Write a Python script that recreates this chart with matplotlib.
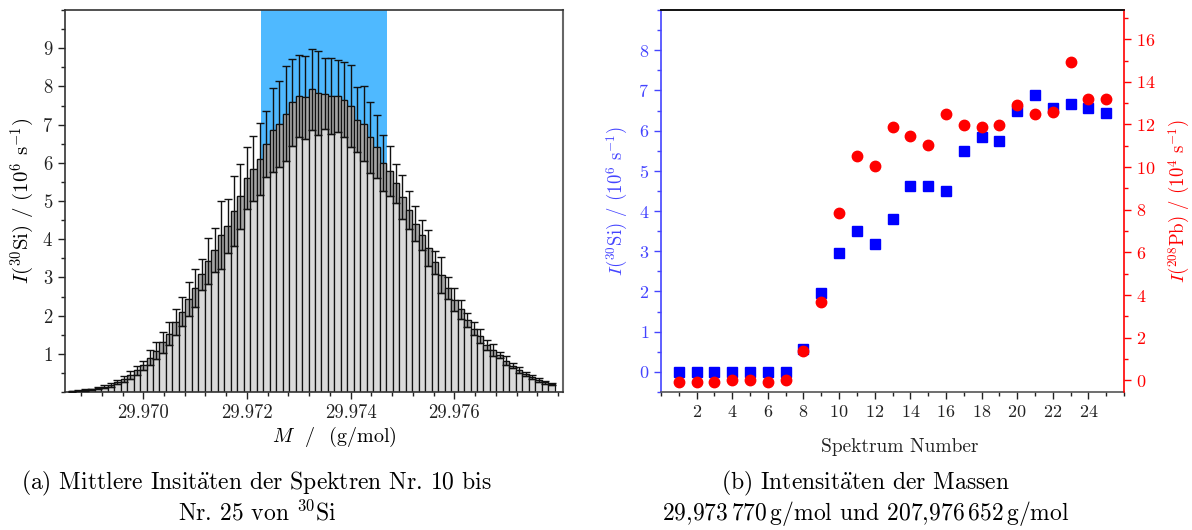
import numpy as np
import matplotlib
matplotlib.use("Agg")
import matplotlib.pyplot as plt
from matplotlib.ticker import MultipleLocator, FixedLocator

plt.rcParams['font.family'] = ['cmr10', 'DejaVu Serif']
plt.rcParams['mathtext.fontset'] = 'cm'
plt.rcParams['axes.unicode_minus'] = False
plt.rcParams['axes.formatter.use_mathtext'] = True

# ---------------- data: panel (a) ----------------
mass_start = 29.968625          # centre of first bin (g/mol)
mass_step = 0.000125            # bin width (g/mol)
intensity = [0.02, 0.03, 0.05, 0.07, 0.10, 0.14, 0.19, 0.26, 0.35, 0.45,
             0.57, 0.70, 0.90, 1.08, 1.30, 1.52, 1.83, 2.10, 2.43, 2.72,
             3.08, 3.42, 3.72, 4.11, 4.35, 4.73, 5.12, 5.60, 5.85, 6.10,
             6.50, 6.86, 7.02, 7.29, 7.58, 7.75, 7.71, 7.92, 7.83, 7.81,
             7.75, 7.75, 7.65, 7.49, 7.13, 7.02, 6.67, 6.42, 6.00, 5.78,
             5.47, 5.10, 4.77, 4.40, 4.10, 3.76, 3.40, 3.06, 2.73, 2.42,
             2.16, 1.89, 1.66, 1.46, 1.24, 1.10, 0.96, 0.82, 0.69, 0.58,
             0.47, 0.39, 0.31, 0.26, 0.21]
intensity_err = [0.01, 0.01, 0.02, 0.02, 0.03, 0.04, 0.05, 0.06, 0.08, 0.10,
                 0.12, 0.12, 0.20, 0.22, 0.28, 0.30, 0.35, 0.38, 0.45, 0.50,
                 0.40, 0.60, 0.58, 0.88, 0.70, 0.92, 0.85, 0.82, 0.86, 0.93,
                 0.86, 1.09, 1.13, 1.25, 1.14, 1.08, 1.08, 1.06, 1.09, 0.93,
                 1.00, 0.95, 0.98, 1.08, 0.86, 0.98, 0.93, 0.83, 0.73, 0.66,
                 0.51, 0.57, 0.50, 0.46, 0.39, 0.47, 0.30, 0.47, 0.29, 0.29,
                 0.24, 0.19, 0.17, 0.18, 0.13, 0.15, 0.08, 0.11, 0.06, 0.07,
                 0.06, 0.06, 0.06, 0.04, 0.03]
highlight_range = (29.97228, 29.97471)

# ---------------- data: panel (b) ----------------
spectrum = list(range(1, 26))
si30 = [0.0, 0.0, 0.0, 0.0, 0.0, 0.0, 0.0, 0.58, 1.95, 2.96,
        3.51, 3.17, 3.80, 4.63, 4.63, 4.50, 5.49, 5.85, 5.75, 6.49,
        6.88, 6.57, 6.67, 6.57, 6.44]
pb208 = [-0.08, -0.08, -0.08, 0.03, 0.03, -0.08, 0.03, 1.38, 3.65, 7.87,
         10.53, 10.03, 11.88, 11.47, 11.06, 12.50, 11.99, 11.88, 11.99, 12.91,
         12.50, 12.60, 14.95, 13.21, 13.21]

# ---------------- figure ----------------
fig = plt.figure(figsize=(11.92, 5.30), dpi=100)
axA = fig.add_axes([65/1192, 1-392/530, 498/1192, 382/530])
axB = fig.add_axes([661/1192, 1-392/530, 463/1192, 382/530])

# ---- panel (a)
centers = mass_start + mass_step*np.arange(len(intensity))
mean = np.array(intensity)
err = np.array(intensity_err)
axA.axvspan(*highlight_range, color='#4fb9ff', zorder=0, lw=0)
axA.bar(centers, mean, width=mass_step, color='#d9d9d9', edgecolor='#111111',
        linewidth=0.9, zorder=2)
axA.bar(centers, err, bottom=mean-err, width=mass_step, color='#a6a6a6',
        edgecolor='#111111', linewidth=0.9, zorder=2)
axA.errorbar(centers, mean, yerr=err, fmt='none', ecolor='#111111',
             elinewidth=1.0, capsize=3, capthick=1.0, zorder=3)
axA.set_xlim(29.96849, 29.978096)
axA.set_ylim(0, 10.0)
axA.yaxis.set_major_locator(FixedLocator(range(1, 10)))
axA.yaxis.set_minor_locator(MultipleLocator(0.5))
axA.xaxis.set_major_locator(FixedLocator([29.970, 29.972, 29.974, 29.976]))
axA.xaxis.set_minor_locator(MultipleLocator(0.0004))
axA.set_xticklabels(['29.970', '29.972', '29.974', '29.976'])
axA.tick_params(which='both', direction='out', top=False, right=False,
                labelsize=13.5, colors='#222222')
axA.tick_params(which='major', length=5, width=1)
axA.tick_params(which='minor', length=3, width=1)
for s in axA.spines.values():
    s.set_color('#333333')
    s.set_linewidth(1.2)
axA.spines['right'].set_color('#666666')
axA.spines['right'].set_linewidth(1.5)
axA.set_xlabel(r'$M$  /  (g/mol)', fontsize=14.5, labelpad=2)
axA.xaxis.set_label_coords(0.54, -0.085)
axA.set_ylabel(r'$I$($^{30}$Si) / (10$^{6}$ s$^{\mathrm{-1}}$)', fontsize=15, labelpad=4)

# ---- panel (b)
blue = '#0000ff'
red = '#ff0000'
axB.plot(spectrum, si30, 's', color=blue, markersize=6.5, zorder=3)
axR = axB.twinx()
axR.set_position([661/1192, 1-392/530, 463/1192, 382/530])
axR.plot(spectrum, pb208, 'o', color=red, markersize=7.5, zorder=3)

axB.set_xlim(0, 26)
axB.set_ylim(-0.5, 9.0)
axR.set_ylim(-0.55, 17.37)
axB.xaxis.set_major_locator(FixedLocator(range(2, 25, 2)))
axB.xaxis.set_minor_locator(MultipleLocator(1))
axB.yaxis.set_major_locator(FixedLocator(range(0, 9)))
axB.yaxis.set_minor_locator(MultipleLocator(0.5))
axR.yaxis.set_major_locator(FixedLocator(range(0, 17, 2)))
axR.yaxis.set_minor_locator(MultipleLocator(1))

axB.tick_params(axis='x', which='both', direction='out', top=False,
                labelsize=13, colors='#222222')
axB.tick_params(axis='y', which='both', direction='out', right=False,
                labelsize=13, colors='#4444ff')
axR.tick_params(axis='y', which='both', direction='out', labelsize=13,
                colors=red)
for a in (axB, axR):
    a.tick_params(which='major', length=5, width=1)
    a.tick_params(which='minor', length=3, width=1)

axB.spines['left'].set_color('#4444ff')
axB.spines['bottom'].set_color('#555555')
axB.spines['top'].set_color('#111111')
axB.spines['right'].set_visible(False)
axR.spines['right'].set_color(red)
axR.spines['left'].set_visible(False)
axR.spines['bottom'].set_visible(False)
axR.spines['top'].set_color('#111111')
for a in (axB, axR):
    for s in a.spines.values():
        s.set_linewidth(1.2)

axB.set_xlabel('Spektrum Number', fontsize=14, color='#222222', labelpad=8)
axB.xaxis.set_label_coords(0.516, -0.12)
axB.set_ylabel(r'$I$($^{30}$Si) / (10$^{6}$ s$^{\mathrm{-1}}$)', fontsize=13.5,
               color='#4444ff', labelpad=6)
axR.set_ylabel(r'$I$($^{208}$Pb) / (10$^{4}$ s$^{\mathrm{-1}}$)', fontsize=13.5,
               color=red, labelpad=8)

# ---- captions
fig.text(256/1192, 1-483/530,
         r'(a) Mittlere Insit$\ddot{\mathrm{a}}$ten der Spektren Nr. 10 bis',
         ha='center', va='center', fontsize=17)
fig.text(257/1192, 1-513/530, r'Nr. 25 von $^{30}$Si',
         ha='center', va='center', fontsize=17)
fig.text(865/1192, 1-483/530, r'(b) Intensit$\ddot{\mathrm{a}}$ten der Massen',
         ha='center', va='center', fontsize=17)
fig.text(866/1192, 1-513/530,
         r'29,973$\,$770$\,$g/mol und 207,976$\,$652$\,$g/mol',
         ha='center', va='center', fontsize=17)

fig.savefig('out.png', dpi=100)
